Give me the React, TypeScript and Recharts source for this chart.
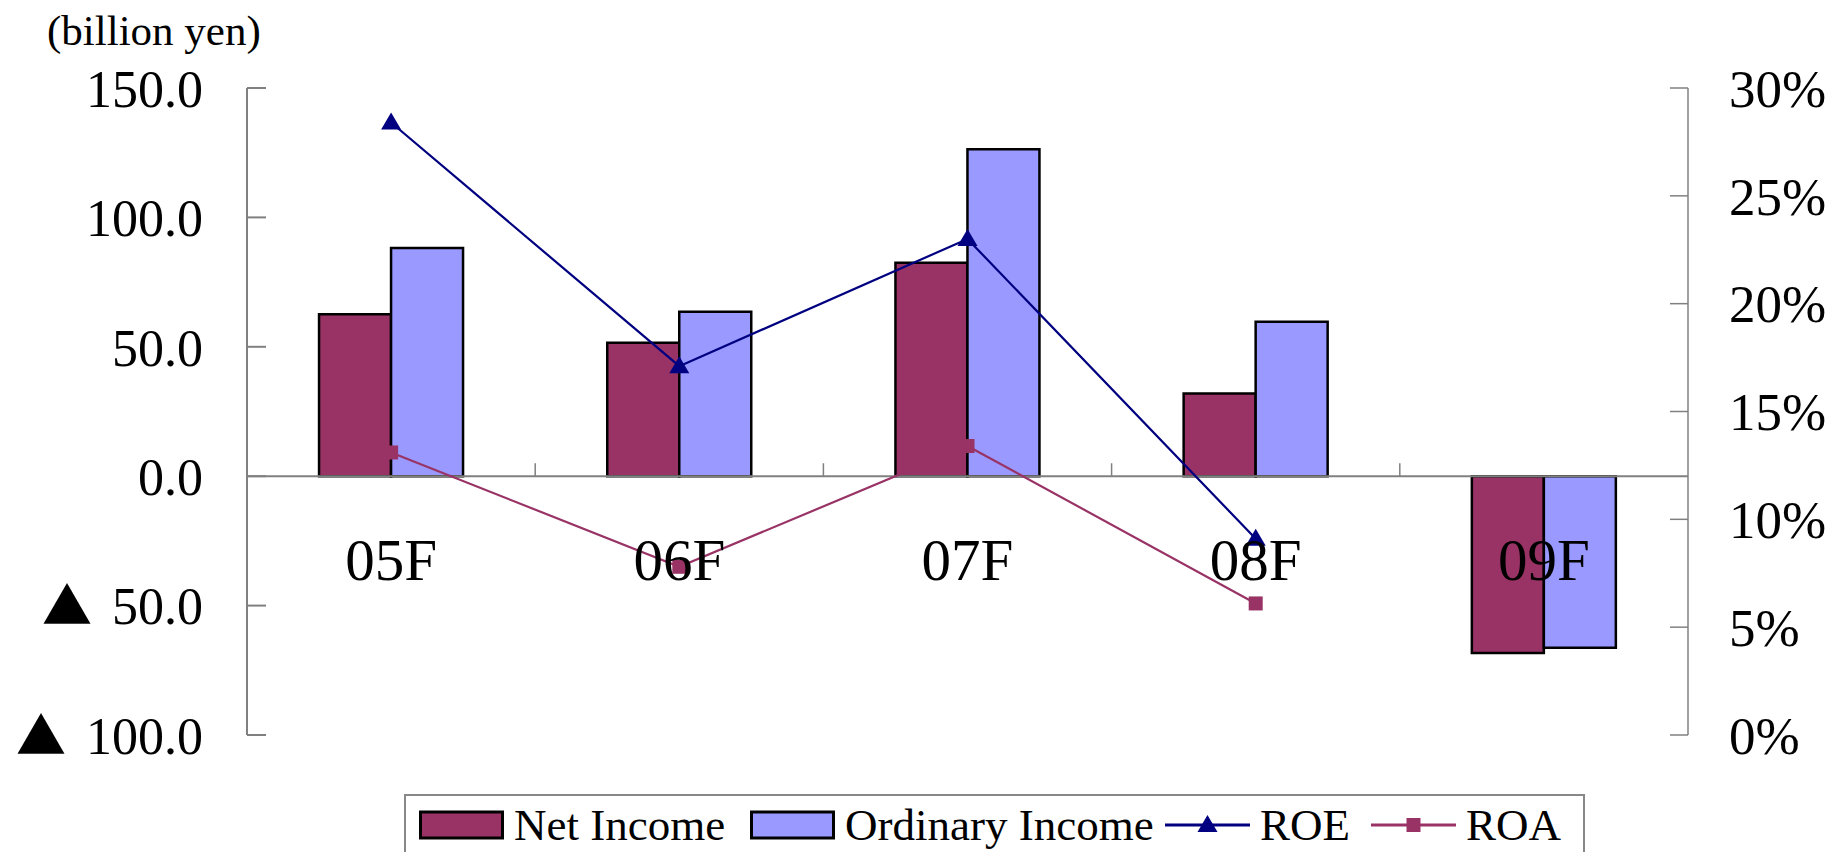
import React from "react";
import {
  ComposedChart,
  Bar,
  Line,
  XAxis,
  YAxis,
  ReferenceLine,
} from "recharts";

const FONT = '"Liberation Serif", "Times New Roman", serif';

const categories = ["05F", "06F", "07F", "08F", "09F"];
const netIncome = [62.6, 51.6, 82.5, 32.0, -68.3];
const ordinaryIncome = [88.2, 63.5, 126.3, 59.7, -66.3];
const roe = [28.4, 17.1, 23.0, 9.1, null];
const roa = [13.1, 7.8, 13.4, 6.1, null];

const leftTicks = [-100, -50, 0, 50, 100, 150];
const rightTicks = [0, 5, 10, 15, 20, 25, 30];

const data = categories.map((c, i) => ({
  name: c,
  net: netIncome[i],
  ordinary: ordinaryIncome[i],
  roe: roe[i],
  roa: roa[i],
}));

const NET_COLOR = "#993366";
const ORD_COLOR = "#9999FF";
const ROE_COLOR = "#000080";
const ROA_COLOR = "#993366";
const AXIS_COLOR = "#808080";

// negative values are written with a ▲ in front, japanese style
const LeftTick = ({ x, y, payload }: any) => {
  const v = payload.value as number;
  return (
    <text
      x={x}
      y={y}
      dy="0.36em"
      textAnchor="end"
      fontSize={52}
      fontFamily={FONT}
      fill="#000"
    >
      {v < 0 && (
        <tspan fontFamily='"Noto Sans CJK JP", "DejaVu Sans", sans-serif' fontSize={50}>
          ▲
        </tspan>
      )}
      <tspan dx={v < 0 ? 20 : 0}>{Math.abs(v).toFixed(1)}</tspan>
    </text>
  );
};

const CategoryTick = ({ x, y, payload }: any) => (
  <text
    x={x}
    y={y - 155}
    textAnchor="middle"
    fontSize={59}
    fontFamily={FONT}
    fill="#000"
  >
    {payload.value}
  </text>
);

const TriangleDot = ({ cx, cy }: any) => {
  if (cx == null || cy == null) return null;
  return (
    <path
      d={`M${cx},${cy - 10} L${cx + 10},${cy + 7} L${cx - 10},${cy + 7} Z`}
      fill={ROE_COLOR}
    />
  );
};

const SquareDot = ({ cx, cy }: any) => {
  if (cx == null || cy == null) return null;
  return <rect x={cx - 7} y={cy - 7} width={14} height={14} fill={ROA_COLOR} />;
};

const legendItems = [
  { name: "Net Income", kind: "bar", color: NET_COLOR, left: 13 },
  { name: "Ordinary Income", kind: "bar", color: ORD_COLOR, left: 344 },
  { name: "ROE", kind: "triangle", color: ROE_COLOR, left: 759 },
  { name: "ROA", kind: "square", color: ROA_COLOR, left: 965 },
];

const LegendIcon = ({ kind, color }: { kind: string; color: string }) => (
  <svg width={85} height={34} style={{ display: "block" }}>
    {kind === "bar" ? (
      <rect x={1.5} y={4} width={82} height={26} fill={color} stroke="#000" strokeWidth={3} />
    ) : (
      <>
        <line x1={0} x2={85} y1={17} y2={17} stroke={color} strokeWidth={3} />
        {kind === "triangle" ? (
          <path d="M42.5,7 L52.5,24 L32.5,24 Z" fill={color} />
        ) : (
          <rect x={35.5} y={10} width={14} height={14} fill={color} />
        )}
      </>
    )}
  </svg>
);

const App = () => {
  return (
    <div
      style={{
        position: "absolute",
        left: 0,
        top: 0,
        width: 1838,
        height: 852,
        overflow: "hidden",
        background: "#fff",
        fontFamily: FONT,
      }}
    >
      <div
        style={{
          position: "absolute",
          left: 47,
          top: 9,
          fontSize: 43,
          lineHeight: "43px",
          color: "#000",
          whiteSpace: "nowrap",
        }}
      >
        (billion yen)
      </div>

      <ComposedChart
        width={1838}
        height={852}
        data={data}
        margin={{ top: 88, right: 0, bottom: 0, left: 0 }}
        barCategoryGap="25%"
        barGap={0}
      >
        <XAxis
          dataKey="name"
          height={117}
          axisLine={false}
          tickLine={false}
          tickSize={0}
          tickMargin={0}
          tick={<CategoryTick />}
          interval={0}
        />
        <YAxis
          yAxisId="left"
          width={247}
          domain={[-100, 150]}
          ticks={leftTicks}
          interval={0}
          axisLine={{ stroke: AXIS_COLOR, strokeWidth: 2 }}
          tickLine={{ stroke: AXIS_COLOR, strokeWidth: 2 }}
          tickSize={-19}
          tickMargin={63}
          tick={<LeftTick />}
        />
        <YAxis
          yAxisId="right"
          orientation="right"
          width={150}
          domain={[0, 30]}
          ticks={rightTicks}
          interval={0}
          tickFormatter={(v: number) => `${v}%`}
          axisLine={{ stroke: AXIS_COLOR, strokeWidth: 1.5 }}
          tickLine={{ stroke: AXIS_COLOR, strokeWidth: 1.5 }}
          tickSize={-18}
          tickMargin={59}
          tick={{ fill: "#000", fontSize: 53, fontFamily: FONT, textAnchor: "start" }}
        />
        <ReferenceLine yAxisId="left" y={0} stroke={AXIS_COLOR} strokeWidth={2} />
        {categories.slice(1).map((c) => (
          <ReferenceLine
            key={c}
            yAxisId="left"
            position="start"
            segment={[
              { x: c, y: 0 },
              { x: c, y: 5 },
            ]}
            stroke={AXIS_COLOR}
            strokeWidth={1.5}
          />
        ))}
        <Bar
          yAxisId="left"
          dataKey="net"
          name="Net Income"
          fill={NET_COLOR}
          stroke="#000"
          strokeWidth={2.5}
          isAnimationActive={false}
        />
        <Bar
          yAxisId="left"
          dataKey="ordinary"
          name="Ordinary Income"
          fill={ORD_COLOR}
          stroke="#000"
          strokeWidth={2.5}
          isAnimationActive={false}
        />
        <Line
          yAxisId="right"
          dataKey="roe"
          name="ROE"
          stroke={ROE_COLOR}
          strokeWidth={2.2}
          dot={<TriangleDot />}
          activeDot={false}
          isAnimationActive={false}
        />
        <Line
          yAxisId="right"
          dataKey="roa"
          name="ROA"
          stroke={ROA_COLOR}
          strokeWidth={2.2}
          dot={<SquareDot />}
          activeDot={false}
          isAnimationActive={false}
        />
      </ComposedChart>

      <div
        style={{
          position: "absolute",
          left: 404,
          top: 794,
          width: 1181,
          height: 90,
          border: "2px solid #888",
          boxSizing: "border-box",
          background: "#fff",
        }}
      >
        {legendItems.map((it) => (
          <div
            key={it.name}
            style={{
              position: "absolute",
              left: it.left,
              top: 10,
              display: "flex",
              alignItems: "center",
            }}
          >
            <LegendIcon kind={it.kind} color={it.color} />
            <span
              style={{
                fontSize: 45,
                lineHeight: "38px",
                marginLeft: 10,
                whiteSpace: "nowrap",
                color: "#000",
              }}
            >
              {it.name}
            </span>
          </div>
        ))}
      </div>
    </div>
  );
};

export default App;
